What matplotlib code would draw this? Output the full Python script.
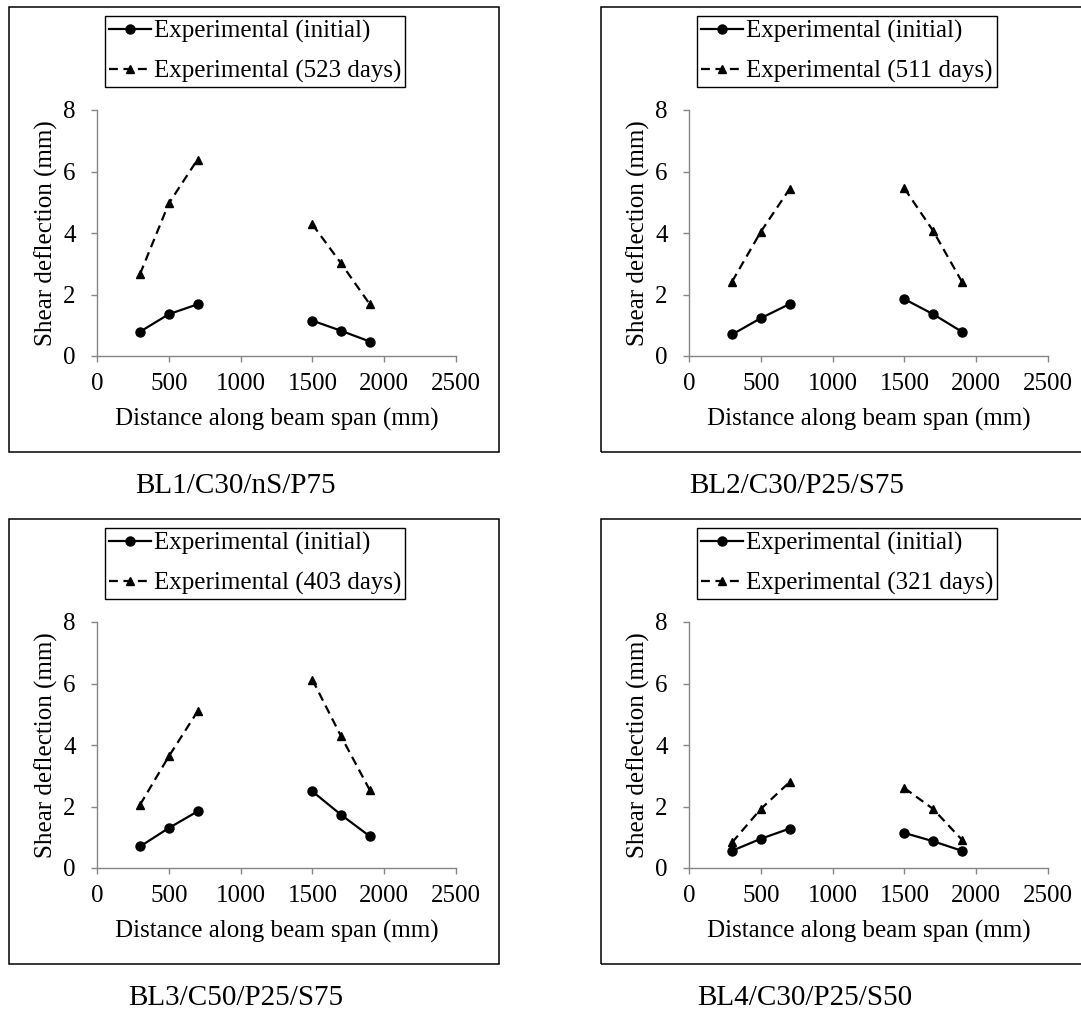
import matplotlib.pyplot as plt
from matplotlib.patches import Rectangle

plt.rcParams['font.family'] = ['Liberation Serif', 'DejaVu Serif']

# distance along the span (mm); left shear span = first three, right = last three
x_dist = [300, 500, 700, 1500, 1700, 1900]

captions = ["BL1/C30/nS/P75", "BL2/C30/P25/S75", "BL3/C50/P25/S75", "BL4/C30/P25/S50"]
days = [523, 511, 403, 321]

# shear deflection (mm)
initial_bl1 = [0.79, 1.36, 1.68, 1.15, 0.82, 0.47]
later_bl1 = [2.67, 4.96, 6.39, 4.28, 3.01, 1.68]
initial_bl2 = [0.70, 1.23, 1.69, 1.85, 1.36, 0.79]
later_bl2 = [2.42, 4.04, 5.43, 5.45, 4.07, 2.42]
initial_bl3 = [0.70, 1.30, 1.84, 2.49, 1.73, 1.03]
later_bl3 = [2.06, 3.63, 5.09, 6.12, 4.28, 2.53]
initial_bl4 = [0.56, 0.95, 1.28, 1.14, 0.87, 0.56]
later_bl4 = [0.83, 1.92, 2.79, 2.60, 1.92, 0.92]

initial_all = [initial_bl1, initial_bl2, initial_bl3, initial_bl4]
later_all = [later_bl1, later_bl2, later_bl3, later_bl4]

W, H = 1081, 1011
fig = plt.figure(figsize=(W / 100, H / 100), dpi=100)


def fx(px):
    return px / W


def fy(py):
    return 1 - py / H


offsets = [(0, 0), (592, 0), (0, 512), (592, 512)]
caption_x = [236, 797, 236, 805]
FS = 18
grey = '#868686'

for i in range(4):
    ox, oy = offsets[i]

    # outer chart frame
    fig.add_artist(Rectangle((fx(9 + ox), fy(452 + oy)), 490 / W, 445 / H,
                             transform=fig.transFigure, fill=False,
                             edgecolor='black', linewidth=1.1))

    ax = fig.add_axes([fx(97 + ox), fy(356 + oy), 359 / W, 246 / H])

    init = initial_all[i]
    late = later_all[i]
    for seg in (slice(0, 3), slice(3, 6)):
        lab = seg.start == 0
        ax.plot(x_dist[seg], init[seg], '-o', color='black', lw=1.6, ms=6.5,
                label="Experimental (initial)" if lab else None)
        ax.plot(x_dist[seg], late[seg], '--^', color='black', lw=1.6, ms=6.3,
                dashes=(4, 2.5),
                label="Experimental (%d days)" % days[i] if lab else None)

    ax.set_xlim(0, 2500)
    ax.set_ylim(0, 8)
    ax.set_xticks(range(0, 2501, 500))
    ax.set_yticks(range(0, 9, 2))
    for s in ('top', 'right'):
        ax.spines[s].set_visible(False)
    for s in ('left', 'bottom'):
        ax.spines[s].set_color(grey)
        ax.spines[s].set_linewidth(1.0)
    ax.tick_params(direction='out', length=4.3, width=1.0, color=grey,
                   labelsize=FS, labelcolor='black')
    ax.tick_params(axis='x', pad=8)
    ax.tick_params(axis='y', pad=11)

    ax.set_xlabel("Distance along beam span (mm)", fontsize=FS)
    ax.xaxis.set_label_coords(0.5, -0.212)
    ax.set_ylabel("Shear deflection (mm)", fontsize=FS)
    ax.yaxis.set_label_coords(-0.108, 0.5)

    leg = ax.legend(loc='upper left', bbox_to_anchor=(fx(105 + ox), fy(16 + oy)),
                    bbox_transform=fig.transFigure, fontsize=FS, frameon=True,
                    fancybox=False, edgecolor='black', framealpha=1,
                    borderpad=0.15, borderaxespad=0, handlelength=1.7,
                    handletextpad=0.12, labelspacing=0.69)
    leg.get_frame().set_linewidth(1.0)

    fig.text(fx(caption_x[i]), fy(486 + oy), captions[i], ha='center',
             va='center', fontsize=21)

fig.savefig('out.png', dpi=100)
